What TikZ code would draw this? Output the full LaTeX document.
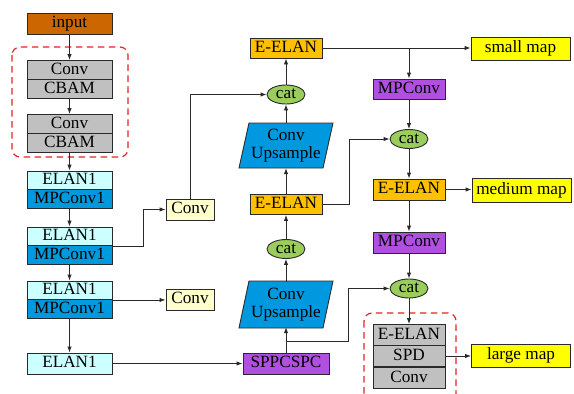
\documentclass[tikz,border=0pt]{standalone}
\usepackage{fontspec}
\setmainfont{Liberation Serif}
\usetikzlibrary{arrows.meta,calc,shapes.geometric}
\definecolor{inputc}{HTML}{CC6600}
\definecolor{grayc}{HTML}{C0C0C0}
\definecolor{elanc}{HTML}{CCFFFF}
\definecolor{mpblue}{HTML}{0099DD}
\definecolor{convy}{HTML}{FFFFCC}
\definecolor{eelanc}{HTML}{FFC000}
\definecolor{purp}{HTML}{B050E0}
\definecolor{catc}{HTML}{9ACD5B}
\definecolor{mapy}{HTML}{FFFF00}
\definecolor{upc}{HTML}{0099E0}
\definecolor{redd}{HTML}{E62222}
\definecolor{linec}{HTML}{2A2A2A}
\tikzset{
  fnt/.style={font=\fontsize{17.2}{18.5}\selectfont},
  bx/.style={draw=linec, line width=0.9pt, inner sep=0pt, text height=11.5pt, text depth=3pt, fnt},
  lbox/.style={bx, minimum width=85pt},
  rbox/.style={bx, minimum width=72pt},
  mapbox/.style={bx, fill=mapy, minimum width=99pt, minimum height=23pt},
  catn/.style={ellipse, draw=linec, line width=0.9pt, fill=catc, inner sep=0pt,
    minimum width=38pt, minimum height=19pt, text height=10pt, text depth=2pt, fnt},
  partext/.style={inner sep=0pt, minimum width=94pt, minimum height=45pt, align=center, fnt},
  para/.style={draw=linec, line width=0.9pt, fill=upc},
  arr/.style={draw=linec, line width=0.9pt, -{Latex[length=6pt,width=4.5pt]}},
  dbox/.style={draw=redd, line width=1.2pt, dash pattern=on 6.5pt off 4.5pt, rounded corners=8pt}
}
\begin{document}
\begin{tikzpicture}[x=1pt,y=-1pt]
\useasboundingbox (0,0) rectangle (574,394);
\clip (0,0) rectangle (574,394);
% dashed groups
\draw[dbox] (12,47) rectangle (128,157);
\draw[dbox] (364,313) rectangle (456,410);
% left column
\node[lbox, fill=inputc, minimum height=21pt] (inp) at (69.5,23.5) {input};
\node[lbox, fill=grayc, minimum height=19pt] (c1) at (69.5,70) {Conv};
\node[lbox, fill=grayc, minimum height=19pt] (cb1) at (69.5,89) {CBAM};
\node[lbox, fill=grayc, minimum height=19pt] (c2) at (69.5,124) {Conv};
\node[lbox, fill=grayc, minimum height=19pt] (cb2) at (69.5,143) {CBAM};
\node[lbox, fill=elanc, minimum height=18.5pt] (e1) at (69.5,180.25) {ELAN1};
\node[lbox, fill=mpblue, minimum height=18.5pt] (m1) at (69.5,198.75) {MPConv1};
\node[lbox, fill=elanc, minimum height=18.5pt] (e2) at (69.5,236.25) {ELAN1};
\node[lbox, fill=mpblue, minimum height=18.5pt] (m2) at (69.5,254.75) {MPConv1};
\node[lbox, fill=elanc, minimum height=18.5pt] (e3) at (69.5,290.25) {ELAN1};
\node[lbox, fill=mpblue, minimum height=18.5pt] (m3) at (69.5,308.75) {MPConv1};
\node[lbox, fill=elanc, minimum height=21pt] (e4) at (69.5,363.5) {ELAN1};
% side convs
\node[bx, fill=convy, minimum width=48pt, minimum height=21pt] (cv1) at (190,209.5) {Conv};
\node[bx, fill=convy, minimum width=48pt, minimum height=21pt] (cv2) at (190,299.5) {Conv};
% middle column
\node[bx, fill=purp, minimum width=86pt, minimum height=21pt] (spp) at (286,363.5) {SPPCSPC};
\coordinate (u2c) at (286,304.5);
\draw[para] ($(u2c)+(-47,23.5)$) -- ($(u2c)+(37,23.5)$) -- ($(u2c)+(47,-23.5)$) -- ($(u2c)+(-37,-23.5)$) -- cycle;
\node[partext] (up2) at (u2c) {Conv\\Upsample};
\node[catn] (cat2) at (286,249) {cat};
\node[rbox, fill=eelanc, minimum height=20pt] (ee2) at (286,204.5) {E-ELAN};
\coordinate (u1c) at (286,145.5);
\draw[para] ($(u1c)+(-47,22.5)$) -- ($(u1c)+(37,22.5)$) -- ($(u1c)+(47,-22.5)$) -- ($(u1c)+(-37,-22.5)$) -- cycle;
\node[partext] (up1) at (u1c) {Conv\\Upsample};
\node[catn] (cat1) at (286,94.5) {cat};
\node[rbox, fill=eelanc, minimum height=20pt] (ee1) at (286,48) {E-ELAN};
% right column
\node[rbox, fill=purp, minimum height=20pt] (mp1) at (409,89) {MPConv};
\node[catn] (catr1) at (409,139) {cat};
\node[rbox, fill=eelanc, minimum height=21pt] (ee3) at (409,189.5) {E-ELAN};
\node[rbox, fill=purp, minimum height=21pt] (mp2) at (409,242.5) {MPConv};
\node[catn] (catr2) at (409,288.5) {cat};
\node[rbox, fill=grayc, minimum height=21pt] (ge) at (409,335) {E-ELAN};
\node[rbox, fill=grayc, minimum height=21pt] (gs) at (409,356) {SPD};
\node[rbox, fill=grayc, minimum height=21pt] (gc) at (409,378) {Conv};
% maps
\node[mapbox] (sm) at (520.5,48.5) {small map};
\node[mapbox, minimum height=24pt] (mm) at (521.5,190) {medium map};
\node[mapbox] (lm) at (521,355.5) {large map};
% left connectors
\draw[arr] (inp.south) -- (c1.north);
\draw[arr] (cb1.south) -- (c2.north);
\draw[arr] (cb2.south) -- (e1.north);
\draw[arr] (m1.south) -- (e2.north);
\draw[arr] (m2.south) -- (e3.north);
\draw[arr] (m3.south) -- (e4.north);
\draw[arr] (e2.south east) -| ([xshift=-22pt]cv1.west) -- (cv1.west);
\draw[arr] (e3.south east) -- (e3.south east -| cv2.west);
\draw[arr] (e4.east) -- (spp.west);
\draw[arr] (cv1.north) |- (cat1.west);
% middle connectors
\coordinate (b1) at (286,341);
\draw[arr] (spp.north) -- (up2.south);
\draw[arr] (b1) -| ([xshift=-41pt]catr2.west) -- (catr2.west);
\draw[arr] (up2.north) -- (cat2.south);
\draw[arr] (cat2.north) -- (ee2.south);
\draw[arr] (ee2.north) -- (up1.south);
\draw[arr] (up1.north) -- (cat1.south);
\draw[arr] (cat1.north) -- (ee1.south);
\draw[arr] (ee2.east) -| ([xshift=-40pt]catr1.west) -- (catr1.west);
% right connectors
\draw[arr] (ee1.east) -- (ee1.east -| sm.west);
\draw[arr] (mp1.north |- ee1.east) -- (mp1.north);
\draw[arr] (mp1.south) -- (catr1.north);
\draw[arr] (catr1.south) -- (ee3.north);
\draw[arr] (ee3.east) -- (ee3.east -| mm.west);
\draw[arr] (ee3.south) -- (mp2.north);
\draw[arr] (mp2.south) -- (catr2.north);
\draw[arr] (catr2.south) -- (ge.north);
\draw[arr] (gs.east) -- (gs.east -| lm.west);
\end{tikzpicture}
\end{document}
